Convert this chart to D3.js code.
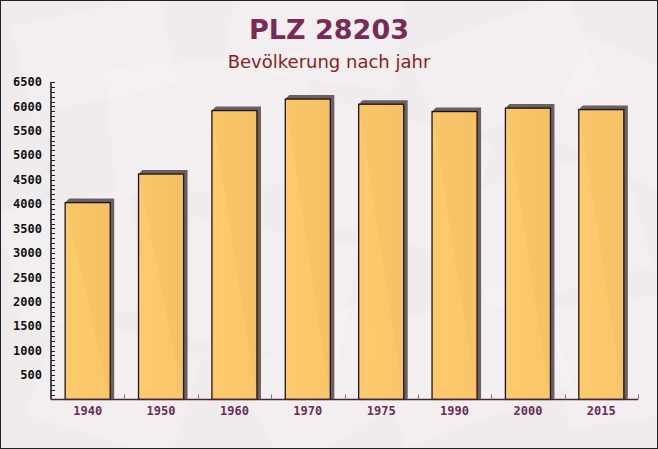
<!DOCTYPE html>
<html><head><meta charset="utf-8">
<script src="https://cdn.jsdelivr.net/npm/d3@7/dist/d3.min.js"></script>
<style>html,body{margin:0;padding:0;background:#fff}svg{display:block}</style>
</head><body><svg id="c" width="658" height="449"></svg>
<script>
const categories = ["1940","1950","1960","1970","1975","1990","2000","2015"];
const population = [4030, 4615, 5915, 6150, 6045, 5895, 5965, 5935];
const yTickValues = [500,1000,1500,2000,2500,3000,3500,4000,4500,5000,5500,6000,6500];
const titleText = "PLZ 28203";
const subtitleText = "Bevölkerung nach jahr";

const W = 658, H = 449;
const svg = d3.select("#c");
const defs = svg.append("defs");

// background
svg.append("rect").attr("width", W).attr("height", H).attr("fill", "#f0eced");
const deco = [
  [20,10,150,90,-12],[230,-20,170,100,8],[420,20,170,100,-20],[560,60,140,110,25],
  [110,60,200,130,-5],[320,120,160,120,15],[10,200,130,120,-10],[470,170,170,120,-15],
  [180,230,170,120,10],[380,300,180,120,-20],[40,330,150,110,18],[560,300,130,120,-8],
  [250,330,150,110,-30]
];
svg.append("g").selectAll("rect").data(deco).join("rect")
  .attr("x", d => d[0]).attr("y", d => d[1]).attr("width", d => d[2]).attr("height", d => d[3])
  .attr("transform", d => `rotate(${d[4]},${d[0]+d[2]/2},${d[1]+d[3]/2})`)
  .attr("fill", "#f8f6f6").attr("opacity", 0.4);

const x = d3.scaleBand().domain(categories).range([51, 638]).paddingInner(0.386).paddingOuter(0.193);
const y = d3.scaleLinear().domain([0, 6500]).range([399.4, 82]);

// bar shadows (3D extrusion)
const dx = 4, dy = 4;
const y0 = y(0);
svg.append("g").selectAll("path").data(categories).join("path")
  .attr("d", (c, i) => {
    const bx = x(c), bw = x.bandwidth(), by = y(population[i]);
    return `M${bx},${by} L${bx+dx},${by-dy} L${bx+bw+dx},${by-dy} L${bx+bw+dx},${y0-1} L${bx+bw},${y0} Z`;
  })
  .attr("fill", "#686063");

// bars
const grad = defs.append("linearGradient").attr("id", "bg").attr("x1", 0).attr("x2", 1).attr("y1", 0).attr("y2", 0);
grad.append("stop").attr("offset", "0%").attr("stop-color", "#fdc968");
grad.append("stop").attr("offset", "100%").attr("stop-color", "#f9c464");
svg.append("g").selectAll("rect").data(categories).join("rect")
  .attr("x", c => x(c)).attr("width", x.bandwidth())
  .attr("y", (c, i) => y(population[i]))
  .attr("height", (c, i) => y0 - y(population[i]))
  .attr("fill", "url(#bg)").attr("fill-opacity", 0.97)
  .attr("stroke", "#1e1416").attr("stroke-width", 1.3);

// y axis
const yMinor = d3.range(100, 6501, 100);
const yAxis = svg.append("g").attr("transform", "translate(51,0)");
yAxis.append("line").attr("x1", 0).attr("x2", 0).attr("y1", y(6500)).attr("y2", y0).attr("stroke", "#111").attr("stroke-width", 1.5);
yAxis.selectAll("line.t").data(yMinor).join("line").attr("class", "t")
  .attr("x1", 0).attr("x2", 4).attr("y1", d => Math.round(y(d)) + 0.5).attr("y2", d => Math.round(y(d)) + 0.5)
  .attr("stroke", "#222").attr("stroke-width", 1);
yAxis.selectAll("text").data(yTickValues).join("text")
  .attr("x", -9).attr("y", d => y(d)).attr("dy", "0.35em").attr("text-anchor", "end")
  .attr("font-family", "DejaVu Sans Mono, monospace").attr("font-weight", "bold").attr("font-size", 12)
  .attr("fill", "#111").text(d => d);

// x axis
const xAxis = svg.append("g").call(d3.axisBottom(x).tickSize(0).tickPadding(0))
  .attr("transform", `translate(0,${y0})`);
xAxis.select(".domain").remove();
xAxis.selectAll("text").attr("dy", "1.3em")
  .attr("font-family", "DejaVu Sans Mono, monospace").attr("font-weight", "bold").attr("font-size", 12)
  .attr("fill", "#6b2c58");
svg.append("line").attr("x1", 51).attr("x2", 638).attr("y1", y0).attr("y2", y0).attr("stroke", "#4a2338").attr("stroke-width", 1.5);
const bounds = categories.map(c => x(c) + x.bandwidth() + x.step() * x.paddingInner() / 2);
svg.append("g").selectAll("line").data(bounds).join("line")
  .attr("x1", d => Math.round(d) + 0.5).attr("x2", d => Math.round(d) + 0.5)
  .attr("y1", y0).attr("y2", y0 - 5).attr("stroke", "#777").attr("stroke-width", 1);

// titles
svg.append("text").attr("x", 329).attr("y", 39).attr("text-anchor", "middle")
  .attr("font-family", "DejaVu Sans, Verdana, sans-serif").attr("font-weight", "bold").attr("font-size", 27)
  .attr("fill", "#7a2a55").text(titleText);
svg.append("text").attr("x", 329).attr("y", 68).attr("text-anchor", "middle")
  .attr("font-family", "DejaVu Sans, Verdana, sans-serif").attr("font-size", 18)
  .attr("fill", "#8e1c1e").text(subtitleText);

// frame
svg.append("rect").attr("x", 0.5).attr("y", 0.5).attr("width", W - 1).attr("height", H - 1)
  .attr("fill", "none").attr("stroke", "#222").attr("stroke-width", 1);
</script></body></html>
